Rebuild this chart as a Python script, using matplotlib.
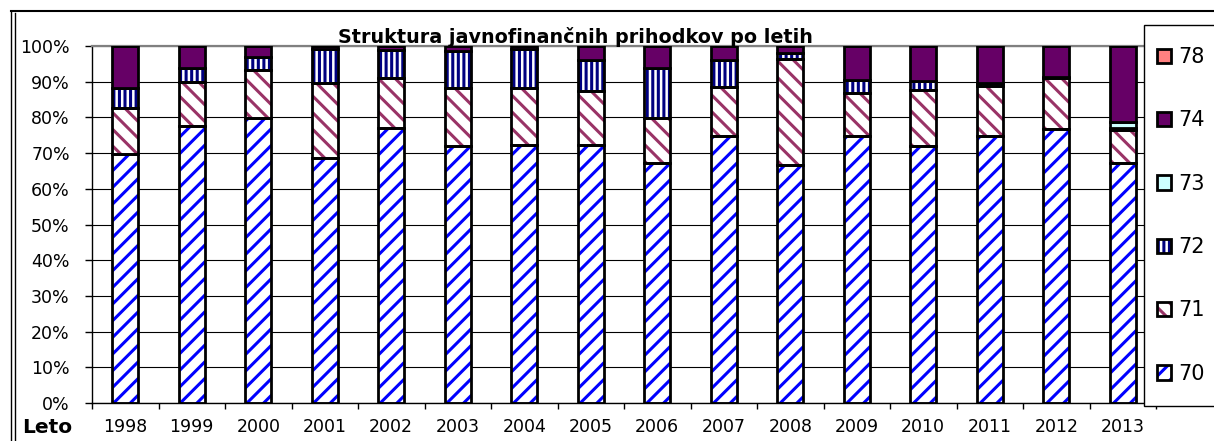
import numpy as np
import matplotlib.pyplot as plt
from matplotlib.patches import Patch, Rectangle
from matplotlib.lines import Line2D
from matplotlib.legend_handler import HandlerTuple

plt.rcParams['font.family'] = 'DejaVu Sans'
plt.rcParams['hatch.linewidth'] = 2.2

years = ['1998', '1999', '2000', '2001', '2002', '2003', '2004', '2005',
         '2006', '2007', '2008', '2009', '2010', '2011', '2012', '2013']
s70 = [69.7, 77.7, 79.9, 68.5, 76.9, 72.0, 72.4, 72.2, 67.3, 74.8, 66.6, 74.8, 72.1, 74.9, 76.7, 67.3]
s71 = [13.0, 12.3, 13.4, 21.0, 14.1, 16.1, 15.7, 15.3, 12.6, 13.8, 29.8, 12.1, 15.6, 13.9, 14.2, 9.1]
s72 = [5.4, 3.8, 3.5, 9.7, 8.0, 10.6, 11.1, 8.6, 14.0, 7.5, 1.7, 3.6, 2.6, 0.9, 0.3, 0.5]
s73 = [0, 0, 0, 0, 0, 0, 0, 0, 0, 0, 0, 0, 0, 0, 0, 1.9]
s74 = [11.9, 6.2, 3.2, 0.8, 1.0, 1.3, 0.8, 3.9, 6.1, 3.9, 1.9, 9.5, 9.7, 10.3, 8.8, 21.2]
s78 = [0] * 16
series_names = ['70', '71', '72', '73', '74', '78']

W, H = 1214, 441
fig = plt.figure(figsize=(W / 100, H / 100), dpi=100)
ax = fig.add_axes([92 / W, 1 - 403 / H, (1156 - 92) / W, (403 - 46) / H])

# (hatch, hatch colour, face colour)
styles = [('//', '#0000FF', 'white'),
          ('\\\\', '#993366', 'white'),
          ('|||', '#000080', 'white'),
          (None, None, '#CCFFFF'),
          (None, None, '#660066'),
          (None, None, '#FF8080')]

x = np.arange(len(years))
bw = 0.39
lw = 2.0
bottom = np.zeros(len(years))
handles = []
for vals, (hatch, hc, fc) in zip([s70, s71, s72, s73, s74, s78], styles):
    vals = np.array(vals, dtype=float)
    if hatch:
        ax.bar(x, vals, bw, bottom=bottom, color='white', hatch=hatch,
               edgecolor=hc, linewidth=0, zorder=2)
        ax.bar(x, vals, bw, bottom=bottom, fill=False, edgecolor='black',
               linewidth=lw, zorder=3)
        h = (Patch(facecolor='white', hatch=hatch, edgecolor=hc, linewidth=0),
             Patch(fill=False, edgecolor='black', linewidth=lw))
    else:
        ax.bar(x, vals, bw, bottom=bottom, color=fc, edgecolor='black',
               linewidth=lw, zorder=3)
        h = Patch(facecolor=fc, edgecolor='black', linewidth=lw)
    handles.append(h)
    bottom += vals

ax.set_xlim(-0.5, len(years) - 0.5)
ax.set_ylim(0, 100)
ax.set_yticks(np.arange(0, 101, 10))
ax.set_yticklabels([f'{v}%' for v in range(0, 101, 10)])
ax.set_xticks(x)
ax.set_xticklabels(years)
ax.set_xticks(np.arange(-0.5, len(years), 1), minor=True)
ax.tick_params(axis='x', which='major', length=0, pad=11, labelsize=12.5)
ax.tick_params(axis='x', which='minor', length=4, width=1, color='black')
ax.tick_params(axis='y', length=5, width=1, pad=11, labelsize=12.5)
ax.yaxis.grid(True, color='black', linewidth=0.8)
ax.set_axisbelow(True)
for side in ['top', 'right']:
    ax.spines[side].set_color('#808080')
    ax.spines[side].set_linewidth(1.6)
ax.spines['left'].set_linewidth(1)
ax.spines['bottom'].set_linewidth(1)

fig.text(575 / W, 1 - 43 / H, 'Struktura javnofinančnih prihodkov po letih',
         ha='center', va='baseline', fontsize=13.8, fontweight='bold')
fig.text(22 / W, 1 - 433 / H, 'Leto', ha='left', va='baseline',
         fontsize=14.5, fontweight='bold')

# legend box
fig.patches.append(Rectangle((1144 / W, 1 - 406 / H), 0.1, (406 - 25) / H,
                             transform=fig.transFigure, facecolor='white',
                             edgecolor='black', linewidth=1, zorder=4))
fig.legend(handles[::-1], series_names[::-1], loc='upper left',
           bbox_to_anchor=(1157 / W, 1 - 47 / H), frameon=False,
           fontsize=15, handlelength=0.68, handleheight=0.68,
           handletextpad=0.33, labelspacing=2.08, borderpad=0, borderaxespad=0,
           handler_map={tuple: HandlerTuple(ndivide=1, pad=0)})

# outer frame
fig.add_artist(Line2D([11 / W, 1], [1 - 11 / H] * 2, color='black', linewidth=1.5))
fig.add_artist(Line2D([11 / W] * 2, [0, 1 - 11 / H], color='black', linewidth=1))
fig.add_artist(Line2D([14.5 / W] * 2, [0, 1 - 13 / H], color='black', linewidth=1))

fig.savefig('out.png', dpi=100)
